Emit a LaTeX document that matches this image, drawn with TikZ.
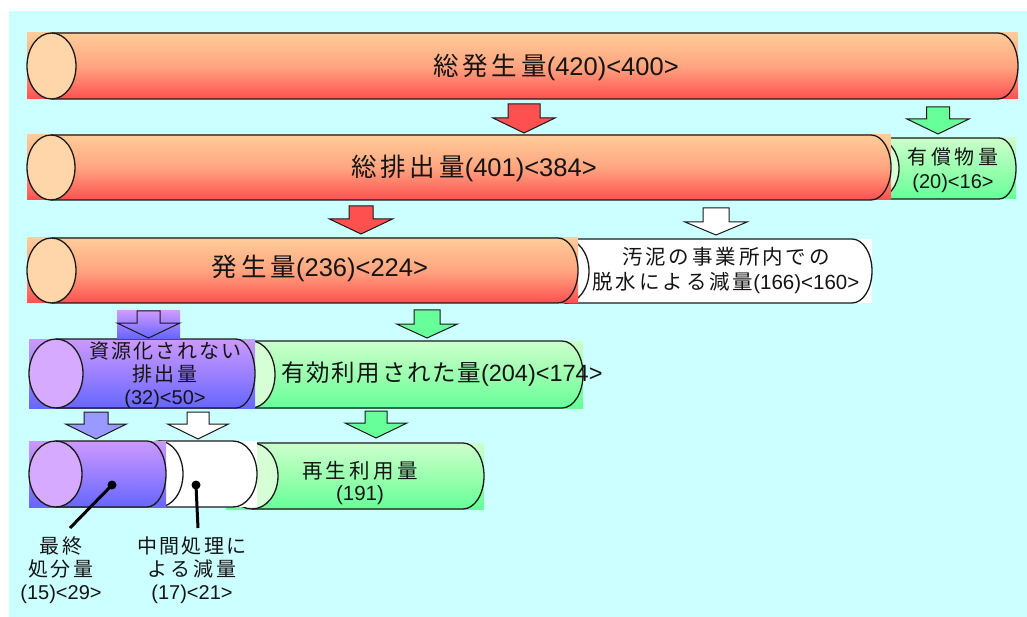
\documentclass[tikz,border=0pt]{standalone}
\usepackage{fontspec}
\setmainfont{Liberation Sans}
\newfontfamily\jp{Noto Sans CJK JP}
\definecolor{bgc}{RGB}{204,255,255}
\definecolor{otop}{RGB}{255,204,153}
\definecolor{omid}{RGB}{255,165,128}
\definecolor{obot}{RGB}{255,80,80}
\definecolor{ocap}{RGB}{255,213,170}
\definecolor{gtop}{RGB}{204,255,204}
\definecolor{gmid}{RGB}{155,255,175}
\definecolor{gbot}{RGB}{102,255,153}
\definecolor{gcap}{RGB}{214,255,214}
\definecolor{ptop}{RGB}{204,153,255}
\definecolor{pmid}{RGB}{155,128,255}
\definecolor{pbot}{RGB}{102,102,255}
\definecolor{pcap}{RGB}{213,170,255}
\definecolor{parr}{RGB}{153,153,255}
\definecolor{rarr}{RGB}{255,80,80}
\definecolor{garr}{RGB}{102,255,153}
\definecolor{outl}{RGB}{25,25,25}
\definecolor{txt}{RGB}{20,20,20}
\makeatletter
\newcommand\JJ[2][0.15em]{{\jp\def\jj@sep{}\@tfor\jj@c:=#2\do{\jj@sep\jj@c\def\jj@sep{\hspace{#1}}}}}
\makeatother
\tikzset{
  oshade/.style={top color=otop, bottom color=obot, middle color=omid},
  gshade/.style={top color=gtop, bottom color=gbot, middle color=gmid},
  pshade/.style={top color=ptop, bottom color=pbot, middle color=pmid},
  whitefill/.style={fill=white},
  outline/.style={draw=outl, line width=1.3pt},
  arrowshape/.style={draw=outl, line width=1pt},
  bigtxt/.style={font=\fontsize{25.5}{30}\selectfont, text=txt, inner sep=0pt},
  midtxt/.style={font=\fontsize{23.5}{28}\selectfont, text=txt, inner sep=0pt},
  smalltxt/.style={font=\fontsize{20.5}{24.5}\selectfont, text=txt, inner sep=0pt, align=center},
  labtxt/.style={font=\fontsize{20}{23}\selectfont, text=txt, inner sep=0pt, align=center},
  callout/.style={line width=3pt, draw=black},
}
% cylinder: x1 y1 x2 y2 leftrx rightrx fillstyle capcolor
\newcommand\cylx[8]{%
  \pgfmathsetmacro\cya{(#2+#4)/2}%
  \pgfmathsetmacro\cyr{(#4-#2)/2}%
  \fill[#7] (#1,#2) rectangle (#3,#4);
  \filldraw[fill=#8, outline] (#1+#5,\cya) ellipse [x radius=#5, y radius=\cyr];
  \draw[outline] (#1+#5,#2) -- (#3-#6,#2) arc[start angle=-90, end angle=90, x radius=#6, y radius=\cyr] -- (#1+#5,#4);
}
% down block arrow: cx top shafthw headhw heady tipy style
\newcommand\darr[7]{%
  \draw[arrowshape, #7] (#1-#3,#2) -- (#1+#3,#2) -- (#1+#3,#5) -- (#1+#4,#5) -- (#1,#6) -- (#1-#4,#5) -- (#1-#3,#5) -- cycle;
}
\begin{document}
\begin{tikzpicture}[x=1pt, y=-1pt]
\useasboundingbox (0,0) rectangle (1027,617);
\fill[bgc] (9,11) rectangle (1027,617);

% row 1
\cylx{27}{33}{1018}{99}{24.5}{20}{oshade}{ocap}
% row 2
\cylx{851}{138}{1016}{199}{24}{17}{gshade}{gcap}
\cylx{27}{135}{891}{200}{24}{20}{oshade}{ocap}
% row 3
\cylx{541}{239}{872}{303}{24}{20}{whitefill}{white}
\cylx{27}{238}{578}{303}{24.5}{20}{oshade}{ocap}
% row 4
\cylx{227}{341}{583}{408}{24}{21}{gshade}{gcap}
\cylx{29}{339}{255}{408}{27}{19}{pshade}{pcap}
% row 5
\cylx{226}{443}{484}{509}{26}{21}{gshade}{gcap}
\cylx{135}{441}{257}{507}{24}{24}{whitefill}{white}
\cylx{29}{441}{166}{507}{26.5}{19}{pshade}{pcap}

% arrows
\darr{524}{104}{16}{31}{118}{133}{fill=rarr}
\darr{938}{107}{11.5}{31}{119}{134}{fill=garr}
\darr{361}{206}{12}{31.5}{219}{234}{fill=rarr}
\darr{716}{208}{13}{31}{222}{235}{fill=white}
\fill[pshade] (117,311) rectangle (180,338);
\darr{148.5}{311}{11.5}{31.5}{323}{338}{}
\darr{427}{310}{13}{30.5}{324}{338}{fill=garr}
\darr{96}{412}{12}{30.5}{424}{439}{fill=parr}
\darr{198}{412}{11}{30.5}{424}{439}{fill=white}
\darr{376}{411}{11}{31}{423}{438}{fill=garr}

% texts
\node[bigtxt] (t1) at (556,67) {\JJ{総発生量}(420)<400>};
\node[bigtxt] (t2) at (474,168) {\JJ{総排出量}(401)<384>};
\node[bigtxt] (t3) at (320,268) {\JJ{発生量}(236)<224>};
\node[smalltxt, font=\fontsize{20}{24.5}\selectfont] (t4) at (953,170) {\JJ[0.18em]{有償物量}\\(20)<16>};
\node[smalltxt] (t5) at (726,270.5) {\JJ[0.14em]{汚泥の事業所内での}\\\JJ[0.14em]{脱水による減量}(166)<160>};
\node[midtxt] (t6) at (442,374) {\JJ[0.07em]{有効利用された量}(204)<174>};
\node[labtxt] (t7) at (165,375) {\JJ[0.1em]{資源化されない}\\\JJ[0.12em]{排出量}\\(32)<50>};
\node[labtxt, font=\fontsize{20.5}{22.5}\selectfont] (t8) at (360,483) {\JJ[0.16em]{再生利用量}\\(191)};
\node[labtxt] (l1) at (61,570) {\JJ[0.15em]{最終}\\\JJ[0.15em]{処分量}\\(15)<29>};
\node[labtxt] (l2) at (192,570) {\JJ[0.12em]{中間処理に}\\\JJ[0.15em]{よる減量}\\(17)<21>};

% callouts
\coordinate (d1) at (112,485);
\coordinate (e1) at (70,528);
\coordinate (d2) at (196,485);
\coordinate (e2) at (198,528);
\fill (d1) circle [radius=4.5];
\fill (d2) circle [radius=4.5];
\draw[callout] (d1) -- (e1);
\draw[callout] (d2) -- (e2);
\end{tikzpicture}
\end{document}
